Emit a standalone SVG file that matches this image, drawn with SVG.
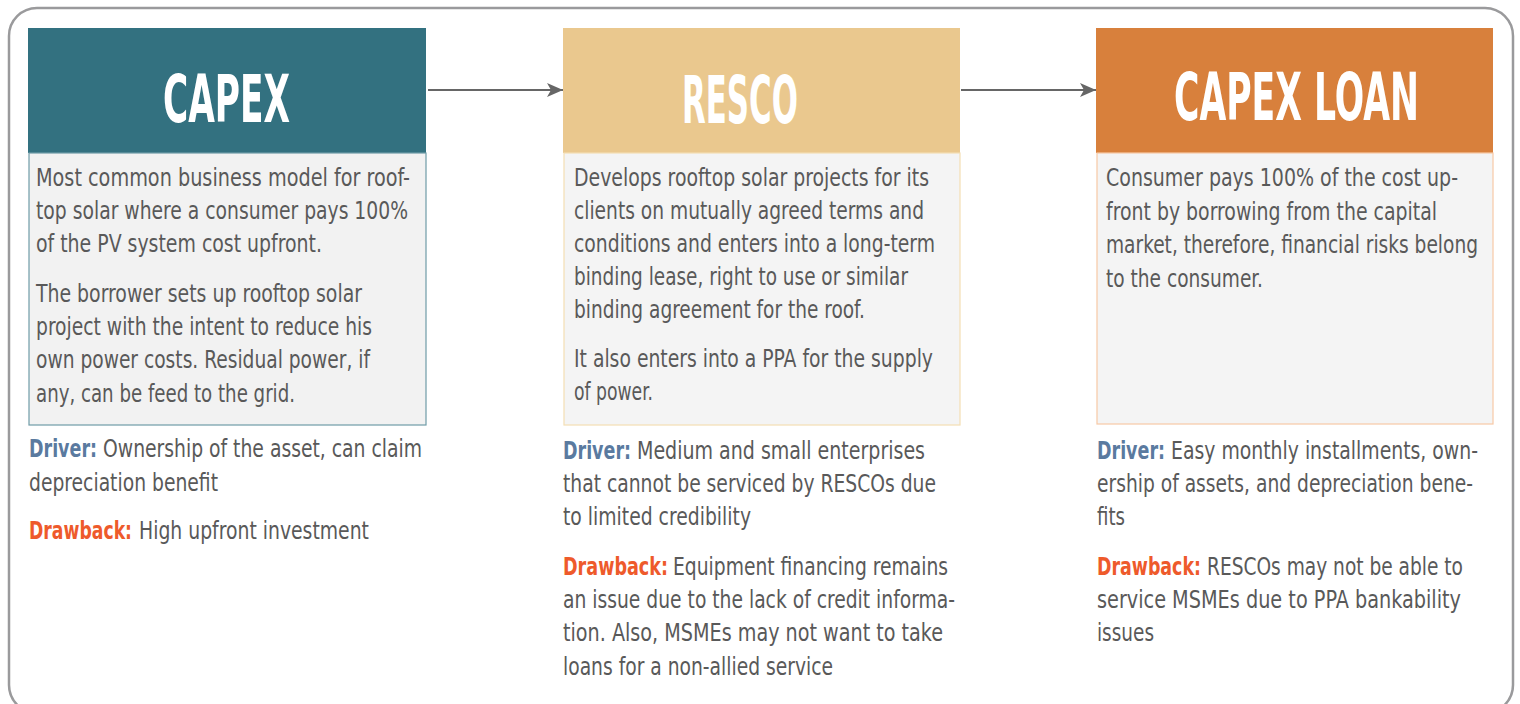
<svg xmlns="http://www.w3.org/2000/svg" width="1520" height="704" viewBox="0 0 1520 704">
  <defs>
    <marker id="arrowhead" viewBox="0 0 16 14" refX="16" refY="7" markerWidth="16" markerHeight="14" markerUnits="userSpaceOnUse" orient="auto">
      <path d="M0,0 L16,7 L0,14 L4,7 Z" fill="#666666"/>
    </marker>
    <style>
      .frame { fill: #ffffff; stroke: #9a9a9c; stroke-width: 2.5; }
      .title { font-family: "Liberation Sans Narrow", "DejaVu Sans", "Liberation Sans", sans-serif; font-stretch: condensed; font-size: 66px; font-weight: bold; fill: #ffffff; }
      .body { font-family: "Liberation Sans Narrow", "DejaVu Sans", "Liberation Sans", sans-serif; font-stretch: condensed; font-size: 25px; fill: #595959; }
      .lbl { font-weight: bold; }
      .drv { fill: #5a7a9f; }
      .drb { fill: #ee5a2b; }
      .conn { stroke: #666666; stroke-width: 2; fill: none; }
    </style>
  </defs>

  <!-- outer frame -->
  <rect class="frame" x="9" y="8" width="1504" height="705" rx="28" ry="28"/>

  <!-- connectors -->
  <g id="connectors">
    <line class="conn" x1="428" y1="90" x2="563" y2="90" marker-end="url(#arrowhead)"/>
    <line class="conn" x1="961" y1="90" x2="1096" y2="90" marker-end="url(#arrowhead)"/>
  </g>

  <!-- CAPEX -->
  <g id="capex">
    <rect x="28" y="28" width="398" height="125" fill="#337180"/>
    <rect x="29" y="153" width="397" height="272" fill="#f2f2f2" stroke="#6f9ca7" stroke-width="1.2"/>
    <text class="title" x="163" y="122" textLength="127" lengthAdjust="spacingAndGlyphs">CAPEX</text>
    <text class="body" x="36" y="186" textLength="374" lengthAdjust="spacingAndGlyphs">Most common business model for roof-</text>
    <text class="body" x="36" y="219" textLength="372" lengthAdjust="spacingAndGlyphs">top solar where a consumer pays 100%</text>
    <text class="body" x="36" y="252" textLength="286" lengthAdjust="spacingAndGlyphs">of the PV system cost upfront.</text>
    <text class="body" x="36" y="302" textLength="326" lengthAdjust="spacingAndGlyphs">The borrower sets up rooftop solar</text>
    <text class="body" x="36" y="335" textLength="336" lengthAdjust="spacingAndGlyphs">project with the intent to reduce his</text>
    <text class="body" x="36" y="368" textLength="334" lengthAdjust="spacingAndGlyphs">own power costs. Residual power, if</text>
    <text class="body" x="36" y="402" textLength="259" lengthAdjust="spacingAndGlyphs">any, can be feed to the grid.</text>
    <text class="body" y="457"><tspan class="lbl drv" x="29" textLength="68" lengthAdjust="spacingAndGlyphs">Driver:</tspan><tspan x="103" textLength="319" lengthAdjust="spacingAndGlyphs">Ownership of the asset, can claim</tspan></text>
    <text class="body" x="29" y="491" textLength="189" lengthAdjust="spacingAndGlyphs">depreciation benefit</text>
    <text class="body" y="539"><tspan class="lbl drb" x="29" textLength="103" lengthAdjust="spacingAndGlyphs">Drawback:</tspan><tspan x="139" textLength="230" lengthAdjust="spacingAndGlyphs">High upfront investment</tspan></text>
  </g>

  <!-- RESCO -->
  <g id="resco">
    <rect x="563" y="28" width="397" height="125" fill="#eac88e"/>
    <rect x="564" y="153" width="396" height="272" fill="#f4f4f4" stroke="#f3deb3" stroke-width="1.2"/>
    <text class="title" x="682" y="123" textLength="116" lengthAdjust="spacingAndGlyphs">RESCO</text>
    <text class="body" x="574" y="186" textLength="355" lengthAdjust="spacingAndGlyphs">Develops rooftop solar projects for its</text>
    <text class="body" x="574" y="219" textLength="350" lengthAdjust="spacingAndGlyphs">clients on mutually agreed terms and</text>
    <text class="body" x="574" y="252" textLength="361" lengthAdjust="spacingAndGlyphs">conditions and enters into a long-term</text>
    <text class="body" x="574" y="285" textLength="334" lengthAdjust="spacingAndGlyphs">binding lease, right to use or similar</text>
    <text class="body" x="574" y="318" textLength="291" lengthAdjust="spacingAndGlyphs">binding agreement for the roof.</text>
    <text class="body" x="574" y="367" textLength="359" lengthAdjust="spacingAndGlyphs">It also enters into a PPA for the supply</text>
    <text class="body" x="574" y="400" textLength="79" lengthAdjust="spacingAndGlyphs">of power.</text>
    <text class="body" y="459"><tspan class="lbl drv" x="563" textLength="68" lengthAdjust="spacingAndGlyphs">Driver:</tspan><tspan x="637" textLength="288" lengthAdjust="spacingAndGlyphs">Medium and small enterprises</tspan></text>
    <text class="body" x="563" y="492" textLength="373" lengthAdjust="spacingAndGlyphs">that cannot be serviced by RESCOs due</text>
    <text class="body" x="563" y="525" textLength="188" lengthAdjust="spacingAndGlyphs">to limited credibility</text>
    <text class="body" y="575"><tspan class="lbl drb" x="563" textLength="105" lengthAdjust="spacingAndGlyphs">Drawback:</tspan><tspan x="673" textLength="275" lengthAdjust="spacingAndGlyphs">Equipment financing remains</tspan></text>
    <text class="body" x="563" y="608" textLength="392" lengthAdjust="spacingAndGlyphs">an issue due to the lack of credit informa-</text>
    <text class="body" x="563" y="641" textLength="380" lengthAdjust="spacingAndGlyphs">tion. Also, MSMEs may not want to take</text>
    <text class="body" x="563" y="675" textLength="270" lengthAdjust="spacingAndGlyphs">loans for a non-allied service</text>
  </g>

  <!-- CAPEX LOAN -->
  <g id="capex-loan">
    <rect x="1096" y="28" width="397" height="125" fill="#d8803c"/>
    <rect x="1097" y="153" width="396" height="271" fill="#f4f4f4" stroke="#f7c8a5" stroke-width="1.2"/>
    <text class="title" x="1174" y="120" textLength="245" lengthAdjust="spacingAndGlyphs">CAPEX LOAN</text>
    <text class="body" x="1106" y="186" textLength="352" lengthAdjust="spacingAndGlyphs">Consumer pays 100% of the cost up-</text>
    <text class="body" x="1106" y="220" textLength="331" lengthAdjust="spacingAndGlyphs">front by borrowing from the capital</text>
    <text class="body" x="1106" y="253" textLength="372" lengthAdjust="spacingAndGlyphs">market, therefore, financial risks belong</text>
    <text class="body" x="1106" y="287" textLength="157" lengthAdjust="spacingAndGlyphs">to the consumer.</text>
    <text class="body" y="459"><tspan class="lbl drv" x="1097" textLength="68" lengthAdjust="spacingAndGlyphs">Driver:</tspan><tspan x="1171" textLength="307" lengthAdjust="spacingAndGlyphs">Easy monthly installments, own-</tspan></text>
    <text class="body" x="1097" y="492" textLength="376" lengthAdjust="spacingAndGlyphs">ership of assets, and depreciation bene-</text>
    <text class="body" x="1097" y="525" textLength="28" lengthAdjust="spacingAndGlyphs">fits</text>
    <text class="body" y="575"><tspan class="lbl drb" x="1097" textLength="104" lengthAdjust="spacingAndGlyphs">Drawback:</tspan><tspan x="1207" textLength="256" lengthAdjust="spacingAndGlyphs">RESCOs may not be able to</tspan></text>
    <text class="body" x="1097" y="608" textLength="364" lengthAdjust="spacingAndGlyphs">service MSMEs due to PPA bankability</text>
    <text class="body" x="1097" y="641" textLength="57" lengthAdjust="spacingAndGlyphs">issues</text>
  </g>
</svg>
